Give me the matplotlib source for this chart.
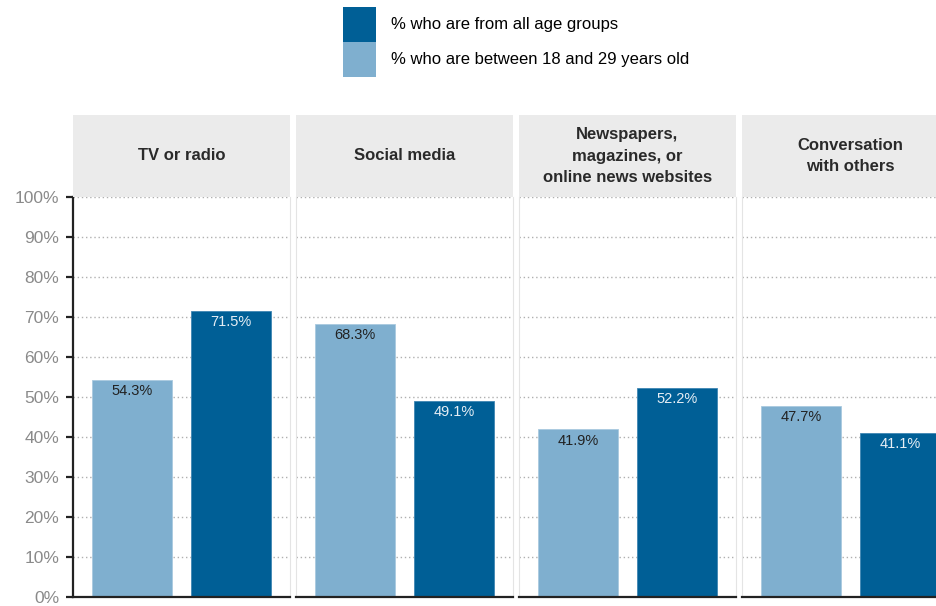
import matplotlib
matplotlib.use('Agg')
import matplotlib.pyplot as plt
from matplotlib.patches import Patch

plt.rcParams['font.family'] = ['Liberation Sans', 'DejaVu Sans']

categories = ['TV or radio', 'Social media',
              'Newspapers,\nmagazines, or\nonline news websites',
              'Conversation\nwith others']
young = [54.3, 68.3, 41.9, 47.7]      # % who are between 18 and 29 years old
all_ages = [71.5, 49.1, 52.2, 41.1]   # % who are from all age groups
yticks = [0, 10, 20, 30, 40, 50, 60, 70, 80, 90, 100]
legend_labels = ['% who are from all age groups', '% who are between 18 and 29 years old']

dark = '#005f96'
light = '#7fafcf'
W, H = 937, 606

fig = plt.figure(figsize=(W / 100, H / 100), dpi=100)

lefts = [73, 296, 519, 742]
pw = 217
bottom, top, head_top = 597, 197, 115

for i, cat in enumerate(categories):
    x0 = lefts[i]
    ax = fig.add_axes([x0 / W, (H - bottom) / H, pw / W, (bottom - top) / H])
    ax.bar(0, young[i], width=0.81, color=light, edgecolor='#a9c9df', linewidth=0.6)
    ax.bar(1, all_ages[i], width=0.81, color=dark, edgecolor='#3f86b3', linewidth=0.6)
    ax.annotate(f'{young[i]:.1f}%', (0, young[i]), xytext=(0, -3), textcoords='offset points',
                ha='center', va='top', fontsize=10.5, color='#222222')
    ax.annotate(f'{all_ages[i]:.1f}%', (1, all_ages[i]), xytext=(0, -3), textcoords='offset points',
                ha='center', va='top', fontsize=10.5, color='#e6eef5')
    ax.set_xlim(-0.6, 1.6)
    ax.set_ylim(0, 100)
    ax.set_xticks([])
    ax.set_yticks(yticks)
    ax.yaxis.grid(True, linestyle=(0, (1, 2)), color='#b0b0b0', linewidth=1)
    ax.set_axisbelow(True)
    ax.spines['top'].set_visible(False)
    ax.spines['bottom'].set_color('#222222')
    ax.spines['bottom'].set_linewidth(1.6)
    ax.spines['right'].set_color('#e4e4e4')
    if i == 0:
        ax.spines['left'].set_color('#222222')
        ax.spines['left'].set_linewidth(1.6)
        ax.set_yticklabels([f'{t}%' for t in yticks], fontsize=12.5, color='#8a8a8a')
        ax.tick_params(axis='y', length=5, width=1.6, color='#222222', pad=5)
    else:
        ax.spines['left'].set_color('#e4e4e4')
        ax.tick_params(axis='y', length=0, labelleft=False)

    hx = fig.add_axes([x0 / W, (H - top) / H, pw / W, (top - head_top) / H])
    hx.set_facecolor('#ebebeb')
    hx.set_xticks([])
    hx.set_yticks([])
    for s in hx.spines.values():
        s.set_visible(False)
    hx.text(0.5, 0.5, cat, ha='center', va='center', fontsize=12, fontweight='bold',
            color='#2a2a2a', linespacing=1.55, transform=hx.transAxes)

handles = [Patch(facecolor=dark), Patch(facecolor=light)]
fig.legend(handles, legend_labels, loc='upper left', bbox_to_anchor=(343 / W, 1 - 7 / H),
           frameon=False, fontsize=12, handlelength=2.0, handleheight=2.85,
           labelspacing=0, handletextpad=0.9, borderpad=0, borderaxespad=0)

fig.savefig('out.png', dpi=100)
